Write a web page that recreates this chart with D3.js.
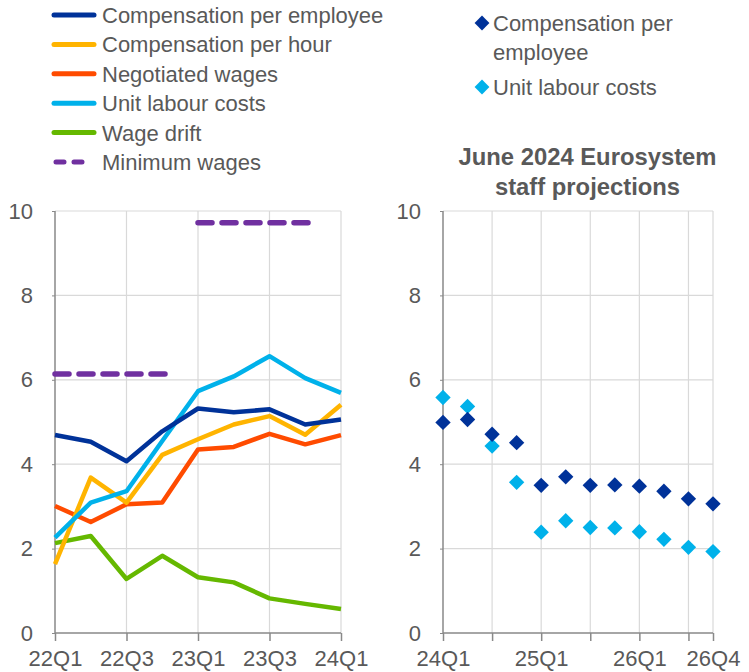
<!DOCTYPE html>
<html><head><meta charset="utf-8">
<script src="https://cdn.jsdelivr.net/npm/d3@7"></script>
<style>body{margin:0;background:#fff}svg{display:block;font-family:"Liberation Sans",Arial,sans-serif}</style>
</head><body><svg id="c" width="749" height="672"></svg>
<script>
const quartersL = ["22Q1","22Q2","22Q3","22Q4","23Q1","23Q2","23Q3","23Q4","24Q1"];
const tickLabelsL = ["22Q1","22Q3","23Q1","23Q3","24Q1"];
const compEmp = [4.69,4.53,4.07,4.78,5.32,5.23,5.30,4.94,5.06];
const compHour = [1.63,3.68,3.09,4.22,4.59,4.94,5.14,4.70,5.41];
const negWages = [3.01,2.63,3.05,3.09,4.35,4.41,4.72,4.47,4.69];
const ulc = [2.26,3.09,3.36,4.55,5.73,6.08,6.56,6.04,5.69];
const wageDrift = [2.13,2.30,1.28,1.83,1.32,1.20,0.82,0.69,0.57];
const minWageQ = [["22Q1","22Q4"],["23Q1","23Q4"]];
const minWageV = [6.14,9.72];

const quartersR = ["24Q1","24Q2","24Q3","24Q4","25Q1","25Q2","25Q3","25Q4","26Q1","26Q2","26Q3","26Q4"];
const tickLabelsR = ["24Q1","25Q1","26Q1","26Q4"];
const gridR = ["24Q1","24Q3","25Q1","25Q3","26Q1","26Q3","26Q4"];
const projCompEmp = [4.99,5.06,4.71,4.51,3.50,3.70,3.50,3.51,3.48,3.36,3.18,3.06];
const projUlc = [5.58,5.37,4.43,3.57,2.39,2.66,2.50,2.49,2.40,2.22,2.03,1.93];
const yTicks = [0,2,4,6,8,10];

const C = {dark:"#003299",yellow:"#FFB400",orange:"#FF4B00",light:"#00B1EA",green:"#65B800",purple:"#7030A0",text:"#595959",grid:"#d9d9d9",axis:"#898989"};
const svg = d3.select("#c");
const FS = 22;

function panel(x0,x1,quarters,gridQ,tickQ,labelQ){
  const x = d3.scalePoint().domain(quarters).range([x0,x1]);
  const y = d3.scaleLinear().domain([0,10]).range([633,211]);
  const g = svg.append("g");
  g.selectAll(".hg").data(yTicks.filter(d=>d>0)).join("line")
    .attr("x1",x0).attr("x2",x1).attr("y1",d=>y(d)).attr("y2",d=>y(d))
    .attr("stroke",C.grid).attr("stroke-width",1.2);
  g.selectAll(".vg").data(gridQ.filter(q=>q!==quarters[0])).join("line")
    .attr("x1",d=>x(d)).attr("x2",d=>x(d)).attr("y1",y(0)).attr("y2",y(10))
    .attr("stroke",C.grid).attr("stroke-width",1.2);
  const xa = g.append("g").attr("transform","translate(0,"+y(0)+")")
    .call(d3.axisBottom(x).tickValues(tickQ).tickSize(8).tickFormat(d=>labelQ.includes(d)?d:""));
  xa.select(".domain").attr("stroke",C.axis).attr("stroke-width",1.5).attr("d","M"+x0+",0H"+x1);
  xa.selectAll(".tick line").attr("stroke",C.axis).attr("stroke-width",1.5);
  xa.selectAll(".tick text").attr("fill",C.text).attr("font-size",FS).attr("font-family","Liberation Sans, Arial").attr("dy","0.9em").attr("y",13);
  const ya = g.append("g").attr("transform","translate("+x0+",0)")
    .call(d3.axisLeft(y).tickValues(yTicks).tickSize(3).tickPadding(19));
  ya.select(".domain").attr("stroke",C.axis).attr("stroke-width",1.5).attr("d","M0,"+y(0)+"V"+y(10));
  ya.selectAll(".tick line").attr("stroke",C.axis);
  ya.selectAll(".tick text").attr("fill",C.text).attr("font-size",FS).attr("font-family","Liberation Sans, Arial");
  return {x,y,g};
}

// Left panel
const L = panel(55,341,quartersL,tickLabelsL,tickLabelsL,tickLabelsL);
const lineL = d3.line().x((d,i)=>L.x(quartersL[i])).y(d=>L.y(d));
[[wageDrift,C.green],[negWages,C.orange],[compHour,C.yellow],[ulc,C.light],[compEmp,C.dark]].forEach(([data,col])=>{
  L.g.append("path").datum(data).attr("d",lineL).attr("fill","none").attr("stroke",col).attr("stroke-width",4.5).attr("stroke-linejoin","round");
});
minWageQ.forEach((q,i)=>{
  L.g.append("line").attr("x1",L.x(q[0])).attr("x2",L.x(q[1])+4).attr("y1",L.y(minWageV[i])).attr("y2",L.y(minWageV[i]))
    .attr("stroke",C.purple).attr("stroke-width",5.5).attr("stroke-dasharray","14,10").attr("stroke-linecap","round");
});

// Right panel
const R = panel(443,713,quartersR,gridR,gridR.filter(q=>q!=="26Q4").concat(["26Q4"]),tickLabelsR);
const diamond = d3.symbol().type(d3.symbolDiamond2).size(150);
[[projUlc,C.light],[projCompEmp,C.dark]].forEach(([data,col])=>{
  R.g.selectAll(null).data(data).join("path").attr("d",diamond)
    .attr("transform",(d,i)=>"translate("+R.x(quartersR[i])+","+R.y(d)+")").attr("fill",col);
});

// Legend left
const legL = [["Compensation per employee",C.dark,false],["Compensation per hour",C.yellow,false],["Negotiated wages",C.orange,false],["Unit labour costs",C.light,false],["Wage drift",C.green,false],["Minimum wages",C.purple,true]];
legL.forEach((d,i)=>{
  const cy = 15 + i*29.4;
  svg.append("line").attr("x1",d[2]?56:54).attr("x2",d[2]?92:94).attr("y1",cy).attr("y2",cy)
    .attr("stroke",d[1]).attr("stroke-width",5).attr("stroke-linecap","round")
    .attr("stroke-dasharray",d[2]?"8,10":null);
  svg.append("text").attr("x",102).attr("y",cy+8).attr("fill",C.text).attr("font-size",FS).text(d[0]);
});
// Legend right
const legR = [[["Compensation per","employee"],C.dark,23],[["Unit labour costs"],C.light,87]];
legR.forEach(d=>{
  svg.append("path").attr("d",d3.symbol().type(d3.symbolDiamond2).size(140)).attr("transform","translate(482,"+d[2]+")").attr("fill",d[1]);
  d[0].forEach((t,j)=>svg.append("text").attr("x",493).attr("y",d[2]+8+j*28.5).attr("fill",C.text).attr("font-size",FS).text(t));
});
// Title
["June 2024 Eurosystem","staff projections"].forEach((t,j)=>{
  svg.append("text").attr("x",587.5).attr("y",165+j*30).attr("text-anchor","middle").attr("fill",C.text)
    .attr("font-size",23.8).attr("font-weight","bold").text(t);
});
</script></body></html>
